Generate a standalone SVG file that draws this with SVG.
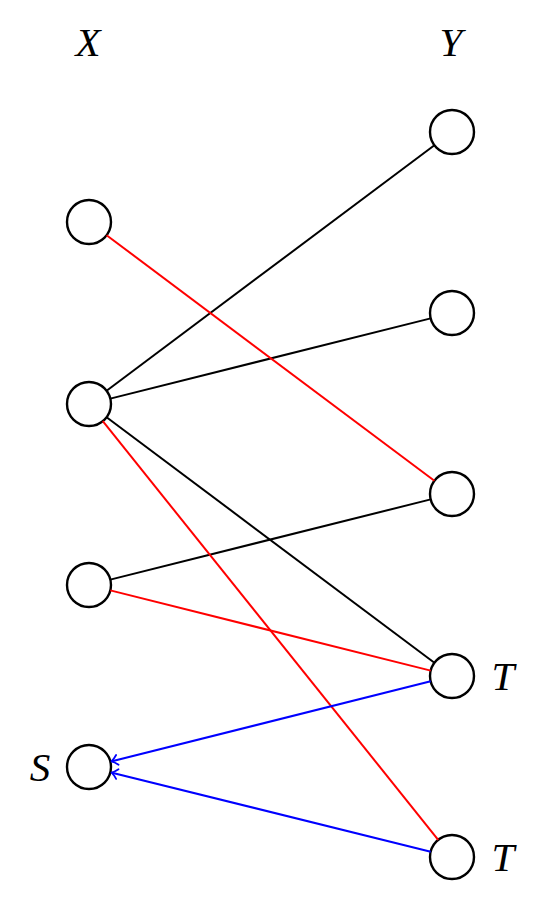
<svg xmlns="http://www.w3.org/2000/svg" width="550" height="900" viewBox="0 0 550 900">
<style>
.n{fill:#fff;stroke:#000;stroke-width:2.4}
.e{stroke-width:2;fill:none}
.k{stroke:#000}.r{stroke:#f00}.b{stroke:#00f}
.ah{fill:none;stroke:#00f;stroke-width:1.8;stroke-linecap:round;stroke-linejoin:round}
.t{font-family:"Liberation Serif","DejaVu Serif",serif;font-style:italic;font-size:41px;text-anchor:middle;fill:#000}
</style>
<g id="x1"><circle class="n" cx="89" cy="222" r="22"/></g>
<g id="x2"><circle class="n" cx="89" cy="404" r="22"/></g>
<g id="x3"><circle class="n" cx="89" cy="585" r="22"/></g>
<g id="x4"><circle class="n" cx="89" cy="767" r="22"/></g>
<g id="y1"><circle class="n" cx="452" cy="132" r="22"/></g>
<g id="y2"><circle class="n" cx="452" cy="313" r="22"/></g>
<g id="y3"><circle class="n" cx="452" cy="494" r="22"/></g>
<g id="y4"><circle class="n" cx="452" cy="676" r="22"/></g>
<g id="y5"><circle class="n" cx="452" cy="857" r="22"/></g>
<g id="edges">
<line class="e k" x1="106.6" y1="390.8" x2="434.4" y2="145.2"/>
<line class="e k" x1="110.3" y1="398.6" x2="430.7" y2="318.4"/>
<line class="e k" x1="106.6" y1="417.2" x2="434.4" y2="662.8"/>
<line class="e k" x1="110.3" y1="579.6" x2="430.7" y2="499.4"/>
<line class="e r" x1="106.6" y1="235.2" x2="434.4" y2="480.8"/>
<line class="e r" x1="110.3" y1="590.4" x2="430.7" y2="670.6"/>
<line class="e r" x1="102.8" y1="421.2" x2="438.2" y2="839.8"/>
<line class="e b" x1="430.7" y1="681.3" x2="112" y2="761.2"/>
<path class="ah" d="M116.10,754.99 Q113.63,759.53 111.5,761.3 Q114.22,761.86 118.54,764.69"/>
<line class="e b" x1="430.7" y1="851.7" x2="112" y2="772.7"/>
<path class="ah" d="M118.52,769.19 Q114.22,772.04 111.5,772.6 Q113.64,774.37 116.12,778.89"/>
</g>
<g id="labels">
<text class="t" x="88" y="56">X</text>
<text class="t" x="451" y="56">Y</text>
<text class="t" x="40" y="781">S</text>
<text class="t" x="503" y="690">T</text>
<text class="t" x="503" y="871">T</text>
</g>
</svg>
